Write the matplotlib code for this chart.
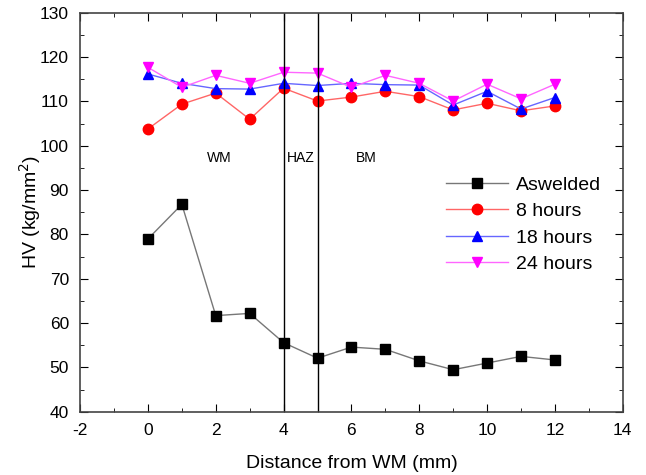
import matplotlib
matplotlib.use("Agg")
import matplotlib.pyplot as plt
from matplotlib.ticker import MultipleLocator

plt.rcParams["font.family"] = ["Liberation Sans", "DejaVu Sans"]
plt.rcParams["axes.unicode_minus"] = False

distance = [0, 1, 2, 3, 4, 5, 6, 7, 8, 9, 10, 11, 12]
aswelded = [79.0, 86.8, 61.7, 62.2, 55.6, 52.1, 54.6, 54.1, 51.5, 49.5, 51.0, 52.5, 51.7]
hv_8h = [103.8, 109.4, 111.9, 106.0, 113.0, 110.1, 111.0, 112.3, 111.1, 108.1, 109.6, 107.9, 109.0]
hv_18h = [116.2, 114.1, 112.9, 112.8, 114.1, 113.6, 114.1, 113.8, 113.7, 109.2, 112.3, 108.3, 110.9]
hv_24h = [117.7, 113.2, 115.9, 114.1, 116.6, 116.4, 113.2, 115.9, 114.1, 110.1, 113.9, 110.6, 113.9]

zone_bounds = [4, 5]
zone_labels = [("WM", 2.1), ("HAZ", 4.5), ("BM", 6.45)]

fig = plt.figure(figsize=(6.46, 4.75), dpi=100)
ax = fig.add_axes([0.124, 0.133, 0.840, 0.840])

series = [
    (aswelded, "Aswelded", "black", "#777777", "s", 7),
    (hv_8h, "8 hours", "red", "#ff6666", "o", 7.5),
    (hv_18h, "18 hours", "blue", "#6666ff", "^", 7.5),
    (hv_24h, "24 hours", "magenta", "#ff66ff", "v", 7.5),
]
for vals, label, mc, lc, mk, ms in series:
    ax.plot(distance, vals, color=lc, linewidth=1.0, marker=mk, markersize=ms,
            markerfacecolor=mc, markeredgecolor=mc, label=label)

for xb in zone_bounds:
    ax.axvline(xb, color="black", linewidth=1.0)

for txt, xpos in zone_labels:
    ax.text(xpos, 97.3, txt, ha="center", va="center", fontsize=10)

ax.set_xlim(-2, 14)
ax.set_ylim(40, 130)
ax.xaxis.set_major_locator(MultipleLocator(2))
ax.xaxis.set_minor_locator(MultipleLocator(1))
ax.yaxis.set_major_locator(MultipleLocator(10))
ax.yaxis.set_minor_locator(MultipleLocator(5))
ax.tick_params(which="both", direction="in", top=True, right=True, labelsize=12.5)
ax.tick_params(which="major", length=6, pad=8)
ax.tick_params(which="minor", length=3)
for sp in ax.spines.values():
    sp.set_color("#444444")
    sp.set_linewidth(1.2)

ax.set_xlabel("Distance from WM (mm)", fontsize=14, labelpad=12)
ax.set_ylabel("HV (kg/mm$^2$)", fontsize=14, labelpad=-2)

ax.legend(loc="upper left", bbox_to_anchor=(0.642, 0.635), frameon=False,
          fontsize=14, handlelength=3.2, labelspacing=0.46, handletextpad=0.4)

fig.savefig("out.png", dpi=100)
